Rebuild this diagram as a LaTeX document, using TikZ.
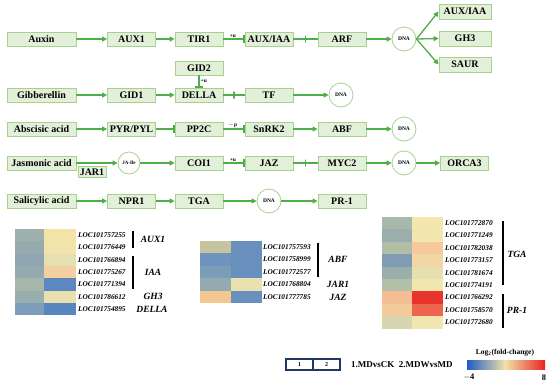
\documentclass[tikz,border=0pt]{standalone}
\usepackage{fontspec}
\setmainfont{Liberation Serif}
\usetikzlibrary{arrows.meta,calc}
\definecolor{bfill}{HTML}{E2EFD9}
\definecolor{bline}{HTML}{A9D18E}
\definecolor{lg}{HTML}{4EAE48}
\definecolor{navy}{HTML}{1F3864}
\definecolor{cbBlue}{HTML}{1E5BC6}
\definecolor{cbYel}{HTML}{F0E2A8}
\definecolor{cbRed}{HTML}{E8231E}
% heatmap 1
\definecolor{ha1}{HTML}{9DB0AE}\definecolor{hb1}{HTML}{F2E4A9}
\definecolor{ha2}{HTML}{97ABAD}\definecolor{hb2}{HTML}{F1E4AA}
\definecolor{ha3}{HTML}{8FA6B2}\definecolor{hb3}{HTML}{E6DFB1}
\definecolor{ha4}{HTML}{93AAB0}\definecolor{hb4}{HTML}{F4CF9F}
\definecolor{ha5}{HTML}{A6B6AB}\definecolor{hb5}{HTML}{5C88BF}
\definecolor{ha6}{HTML}{98AEAF}\definecolor{hb6}{HTML}{E8E0AF}
\definecolor{ha7}{HTML}{7E9DBA}\definecolor{hb7}{HTML}{5A86BF}
% heatmap 2
\definecolor{ia1}{HTML}{C6C39F}\definecolor{ib1}{HTML}{6990BC}
\definecolor{ia2}{HTML}{6E93BC}\definecolor{ib2}{HTML}{6990BC}
\definecolor{ia3}{HTML}{7C9DB8}\definecolor{ib3}{HTML}{6990BC}
\definecolor{ia4}{HTML}{93AAB0}\definecolor{ib4}{HTML}{E9E2AF}
\definecolor{ia5}{HTML}{F5C790}\definecolor{ib5}{HTML}{6990BC}
% heatmap 3
\definecolor{ja1}{HTML}{A8B8AA}\definecolor{jb1}{HTML}{F3E6AE}
\definecolor{ja2}{HTML}{9AAEAD}\definecolor{jb2}{HTML}{F2E5AD}
\definecolor{ja3}{HTML}{B2BDA5}\definecolor{jb3}{HTML}{F5C99C}
\definecolor{ja4}{HTML}{7F9DB2}\definecolor{jb4}{HTML}{F2D6A3}
\definecolor{ja5}{HTML}{9AAEAC}\definecolor{jb5}{HTML}{E6E0B0}
\definecolor{ja6}{HTML}{B4BFA7}\definecolor{jb6}{HTML}{F1E6AE}
\definecolor{ja7}{HTML}{F4BE94}\definecolor{jb7}{HTML}{E8342A}
\definecolor{ja8}{HTML}{F4CB9B}\definecolor{jb8}{HTML}{EE6650}
\definecolor{ja9}{HTML}{D8D6B0}\definecolor{jb9}{HTML}{F1E6B0}
\begin{document}
\begin{tikzpicture}[x=1pt,y=-1pt,
  pbox/.style={draw=bline, fill=bfill, line width=0.8pt, minimum width=48pt, minimum height=14pt, inner sep=0pt, font=\fontsize{10}{10}\selectfont\bfseries},
  hbox/.style={pbox, minimum width=69pt},
  obox/.style={pbox, minimum width=52pt, minimum height=15pt},
  dna/.style={circle, draw=bline, fill=white, line width=0.8pt, minimum size=24pt, inner sep=0pt, font=\fontsize{5.5}{6}\selectfont\bfseries},
  conn/.style={draw=lg, line width=1.3pt},
  act/.style={conn, -{Triangle[length=5pt,width=5pt]}},
  inh/.style={conn, -{Bar[width=8pt]}},
  tick/.style={draw=lg, line width=1.3pt, minimum width=0pt, minimum height=7pt, inner sep=0pt, fill=none},
  lab/.style={font=\fontsize{5.5}{6}\selectfont\bfseries, inner sep=1pt},
  gene/.style={anchor=west, inner sep=0pt, font=\fontsize{7.3}{8}\selectfont\bfseries\itshape},
  grp/.style={inner sep=0pt, font=\fontsize{9.5}{10}\selectfont\bfseries\itshape},
  legbox/.style={draw=navy, line width=1.1pt, minimum width=27pt, minimum height=11pt, inner sep=0pt, font=\fontsize{6}{6}\selectfont\bfseries},
  legtxt/.style={inner sep=0pt, font=\fontsize{9}{10}\selectfont\bfseries}
]
\useasboundingbox (0,0) rectangle (550,384);

% ---------- Row 1 : Auxin
\node[hbox] (aux) at (41.5,39) {Auxin};
\node[pbox] (aux1) at (131.5,39) {AUX1};
\node[pbox] (tir1) at (199,39) {TIR1};
\node[pbox] (auxiaa) at (269,39) {AUX/IAA};
\node[pbox] (arf) at (342,39) {ARF};
\node[dna] (dna1) at (404,39) {DNA};
\node[obox] (o1) at (465,11.5) {AUX/IAA};
\node[obox] (o2) at (465,38.5) {GH3};
\node[obox] (o3) at (465,64.5) {SAUR};
\draw[act] (aux) -- (aux1);
\draw[act] (aux1) -- (tir1);
\draw[inh] (tir1) -- node[lab,above,pos=0.45]{+u} (auxiaa);
\draw[conn] (auxiaa) -- node[tick]{} (arf);
\draw[act] (arf) -- (dna1);
\draw[act] (dna1.east) -- (o1.west);
\draw[act] (dna1.east) -- (o2.west);
\draw[act] (dna1.east) -- (o3.west);

% ---------- Row 2 : Gibberellin
\node[hbox] (gib) at (41.5,95) {Gibberellin};
\node[pbox] (gid1) at (131.5,95) {GID1};
\node[pbox] (della) at (199,95) {DELLA};
\node[pbox] (gid2) at (199,68) {GID2};
\node[pbox] (tf) at (269,95) {TF};
\node[dna] (dna2) at (341,95) {DNA};
\draw[act] (gib) -- (gid1);
\draw[act] (gid1) -- (della);
\draw[inh] (gid2) -- node[lab,right,pos=0.45]{+u} (della);
\draw[conn] (della) -- node[tick]{} (tf);
\draw[act] (tf) -- (dna2);

% ---------- Row 3 : Abscisic acid
\node[hbox] (aba) at (41.5,129) {Abscisic acid};
\node[pbox] (pyr) at (131.5,129) {PYR/PYL};
\node[pbox] (pp2c) at (199,129) {PP2C};
\node[pbox] (snrk) at (269,129) {SnRK2};
\node[pbox] (abf) at (342,129) {ABF};
\node[dna] (dna3) at (404,129) {DNA};
\draw[act] (aba) -- (pyr);
\draw[inh] (pyr) -- (pp2c);
\draw[inh] (pp2c) -- node[lab,above,pos=0.45]{$-$p} (snrk);
\draw[act] (snrk) -- (abf);
\draw[act] (abf) -- (dna3);

% ---------- Row 4 : Jasmonic acid
\node[hbox] (ja) at (41.5,163) {Jasmonic acid};
\node[pbox, minimum width=28pt, minimum height=11pt] (jar1) at (92,172) {JAR1};
\node[dna, minimum size=22pt, font=\fontsize{5}{5}\selectfont\bfseries] (jaile) at (129,163) {JA-Ile};
\node[pbox] (coi1) at (199,163) {COI1};
\node[pbox] (jaz) at (269,163) {JAZ};
\node[pbox] (myc2) at (342,163) {MYC2};
\node[dna] (dna4) at (404,163) {DNA};
\node[pbox] (orca) at (464.5,163) {ORCA3};
\draw[act] (ja) -- (jaile);
\draw[act] (jaile) -- (coi1);
\draw[inh] (coi1) -- node[lab,above,pos=0.45]{+u} (jaz);
\draw[conn] (jaz) -- node[tick]{} (myc2);
\draw[act] (myc2) -- (dna4);
\draw[act] (dna4) -- (orca);

% ---------- Row 5 : Salicylic acid
\node[hbox] (sa) at (41.5,201) {Salicylic acid};
\node[pbox] (npr1) at (131.5,201) {NPR1};
\node[pbox] (tga) at (199,201) {TGA};
\node[dna] (dna5) at (269,201) {DNA};
\node[pbox] (pr1) at (342,201) {PR-1};
\draw[act] (sa) -- (npr1);
\draw[act] (npr1) -- (tga);
\draw[act] (tga) -- (dna5);
\draw[act] (dna5) -- (pr1);

% ---------- Heatmap 1
\foreach \i/\g in {1/LOC101757255,2/LOC101776449,3/LOC101766894,4/LOC101775267,5/LOC101771394,6/LOC101786612,7/LOC101754895}{
  \fill[ha\i] (15,{229+(\i-1)*12.3}) rectangle (44,{229+\i*12.3});
  \fill[hb\i] (44,{229+(\i-1)*12.3}) rectangle (76,{229+\i*12.3});
  \node[gene] (ga\i) at (78,{229+(\i-0.5)*12.3}) {\g};
}
\draw[line width=1.3pt] (133,231) -- (133,248);
\draw[line width=1.3pt] (133,256) -- (133,289);
\node[grp] (gAUX1) at (153,239.5) {AUX1};
\node[grp] (gIAA) at (153,272) {IAA};
\node[grp] (gGH3) at (153,296.6) {GH3};
\node[grp] (gDELLA) at (152,309.5) {DELLA};

% ---------- Heatmap 2
\foreach \i/\g in {1/LOC101757593,2/LOC101758999,3/LOC101772577,4/LOC101768804,5/LOC101777785}{
  \fill[ia\i] (200,{241+(\i-1)*12.4}) rectangle (231,{241+\i*12.4});
  \fill[ib\i] (231,{241+(\i-1)*12.4}) rectangle (262,{241+\i*12.4});
  \node[gene] (gb\i) at (263,{241+(\i-0.5)*12.4}) {\g};
}
\draw[line width=1.3pt] (318,243) -- (318,277);
\node[grp] (gABF) at (338,259.5) {ABF};
\node[grp] (gJAR1) at (338,284.5) {JAR1};
\node[grp] (gJAZ) at (338,297) {JAZ};

% ---------- Heatmap 3
\foreach \i/\g in {1/LOC101772870,2/LOC101771249,3/LOC101782038,4/LOC101773157,5/LOC101781674,6/LOC101774191,7/LOC101766292,8/LOC101758570,9/LOC101772680}{
  \fill[ja\i] (382,{217+(\i-1)*12.4}) rectangle (412,{217+\i*12.4});
  \fill[jb\i] (412,{217+(\i-1)*12.4}) rectangle (443,{217+\i*12.4});
  \node[gene] (gc\i) at (445,{217+(\i-0.5)*12.4}) {\g};
}
\draw[line width=1.3pt] (503,221) -- (503,285);
\draw[line width=1.3pt] (503,294) -- (503,328);
\node[grp] (gTGA) at (517,254) {TGA};
\node[grp] (gPR1) at (517,310) {PR-1};

% ---------- Legend
\node[legbox] (l1) at (299.5,364.5) {1};
\node[legbox] (l2) at (326.5,364.5) {2};
\node[legtxt, anchor=west] (ltxt) at (351,364.5) {1.MDvsCK\ \ 2.MDWvsMD};
\shade[left color=cbBlue, right color=cbYel] (467,360) rectangle (505,369);
\shade[left color=cbYel, right color=cbRed] (505,360) rectangle (545,369);
\node[inner sep=0pt, font=\fontsize{7.5}{8}\selectfont\bfseries] (logl) at (505,352.5) {Log$_{\mathbf{2}}$(fold-change)};
\node[inner sep=0pt, font=\fontsize{8.5}{9}\selectfont\bfseries] (lm4) at (469,377.5) {$-$4};
\node[inner sep=0pt, font=\fontsize{8.5}{9}\selectfont\bfseries] (l8) at (544,377.5) {8};
\end{tikzpicture}
\end{document}
